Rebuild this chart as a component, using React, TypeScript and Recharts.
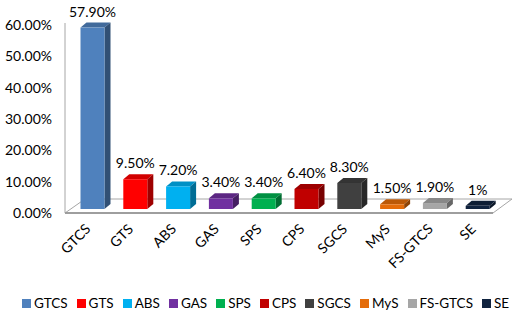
import React from 'react';
import { BarChart, Bar, XAxis, YAxis, Legend, Customized } from 'recharts';

const categories = ['GTCS', 'GTS', 'ABS', 'GAS', 'SPS', 'CPS', 'SGCS', 'MyS', 'FS-GTCS', 'SE'];
const percentages = [57.9, 9.5, 7.2, 3.4, 3.4, 6.4, 8.3, 1.5, 1.9, 1];
const valueLabels = ['57.90%', '9.50%', '7.20%', '3.40%', '3.40%', '6.40%', '8.30%', '1.50%', '1.90%', '1%'];
const yTicks = [0, 10, 20, 30, 40, 50, 60];
const colors = ['#4F81BD', '#FF0000', '#00B0F0', '#7030A0', '#00B050', '#C00000', '#404040', '#E46C0A', '#A6A6A6', '#10233F'];

const data = categories.map((name, i) => ({ name, value: percentages[i], label: valueLabels[i] }));

const FONT = 'Lato, "Open Sans", sans-serif';
const W = 517;
const H = 312;
const M = { top: 25, right: 24, left: 0, bottom: 0 };
const PLOT_LEFT = 65;
const PLOT_RIGHT = W - M.right;
const PLOT_TOP = M.top;
const PLOT_BOTTOM = 213;

function shade(hex: string, f: number) {
  const n = parseInt(hex.slice(1), 16);
  const r = Math.round(((n >> 16) & 255) * f);
  const g = Math.round(((n >> 8) & 255) * f);
  const b = Math.round((n & 255) * f);
  return `rgb(${r},${g},${b})`;
}

// fake 3D box: front face + side + top
function Box3D(props: any) {
  const { x, y, width, height, index, payload } = props;
  const c = colors[index];
  const fx = x + 6.5;
  const fy = y - 4;
  const d = 6;
  const dh = 5;
  return (
    <g>
      <polygon
        points={`${fx},${fy} ${fx + d},${fy - dh} ${fx + width + d},${fy - dh} ${fx + width},${fy}`}
        fill={shade(c, 0.82)}
      />
      <polygon
        points={`${fx + width},${fy} ${fx + width + d},${fy - dh} ${fx + width + d},${fy + height - dh} ${fx + width},${fy + height}`}
        fill={shade(c, 0.62)}
      />
      <rect x={fx} y={fy} width={width} height={height} fill={c} />
      <text x={fx + width / 2} y={fy - 11} textAnchor="middle" fontSize={14} fontFamily={FONT} fill="#000">
        {payload.label}
      </text>
    </g>
  );
}

function Floor() {
  return (
    <g>
      <polygon
        points={`${PLOT_LEFT},${PLOT_BOTTOM} ${PLOT_LEFT + 20},${PLOT_BOTTOM - 14} ${PLOT_RIGHT + 19},${PLOT_BOTTOM - 14} ${PLOT_RIGHT},${PLOT_BOTTOM}`}
        fill="#fff"
        stroke="#a6a6a6"
        strokeWidth={1}
      />
      <line x1={PLOT_LEFT} y1={PLOT_BOTTOM} x2={PLOT_RIGHT} y2={PLOT_BOTTOM} stroke="#8c8c8c" strokeWidth={1.5} />
      <line x1={PLOT_LEFT} y1={PLOT_TOP - 2} x2={PLOT_LEFT} y2={PLOT_BOTTOM} stroke="#a6a6a6" strokeWidth={1} />
    </g>
  );
}

function CategoryTick(props: any) {
  const { x, y, payload } = props;
  return (
    <g transform={`translate(${x + 5},${y + 9})`}>
      <text textAnchor="end" transform="rotate(-45)" fontSize={14} fontFamily={FONT} fill="#000">
        {payload.value}
      </text>
    </g>
  );
}

function LegendBox() {
  return (
    <div style={{ display: 'flex', justifyContent: 'center', whiteSpace: 'nowrap', paddingTop: 12, paddingLeft: 14, fontFamily: FONT, fontSize: 13.5, color: '#000' }}>
      {categories.map((name, i) => (
        <span key={name} style={{ display: 'inline-flex', alignItems: 'center', marginRight: i < categories.length - 1 ? 9 : 0 }}>
          <span style={{ width: 9, height: 9, background: colors[i], display: 'inline-block', marginRight: 3 }} />
          {name}
        </span>
      ))}
    </div>
  );
}

export default function App() {
  return (
    <div style={{ position: 'absolute', left: 0, top: 0, background: '#fff' }}>
      <BarChart width={W} height={H} data={data} margin={M}>
        <Customized component={Floor} />
        <XAxis
          dataKey="name"
          height={70}
          axisLine={false}
          tickLine={false}
          interval={0}
          tick={<CategoryTick />}
        />
        <YAxis
          width={65}
          domain={[0, 60]}
          ticks={yTicks}
          axisLine={false}
          tickLine={false}
          tickMargin={7}
          tickFormatter={(v: number) => v.toFixed(2) + '%'}
          tick={{ fontSize: 14, fontFamily: FONT, fill: '#000' }}
        />
        <Legend
          verticalAlign="bottom"
          height={29}
          wrapperStyle={{ left: 0, width: W }}
          content={() => <LegendBox />}
        />
        <Bar dataKey="value" barSize={24} shape={<Box3D />} isAnimationActive={false} />
      </BarChart>
    </div>
  );
}
